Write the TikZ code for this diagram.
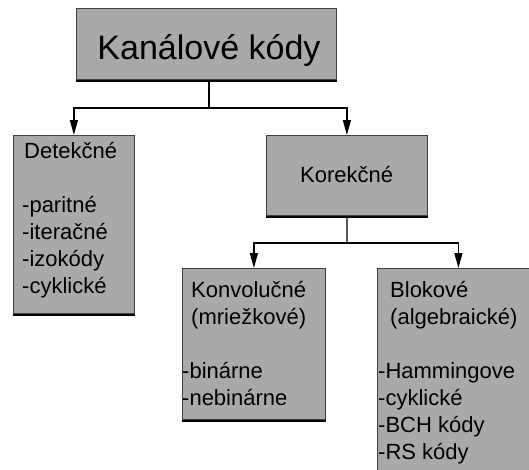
\documentclass[tikz,border=0pt]{standalone}
\usepackage{fontspec}
\setmainfont{Liberation Sans}
\usetikzlibrary{arrows.meta}
\definecolor{boxgray}{HTML}{A9A9A9}
\begin{document}
\begin{tikzpicture}[x=1pt,y=-1pt,
  box/.style={draw=black!75, line width=0.8pt, fill=boxgray, rectangle, inner sep=0pt, anchor=north west},
  shadowline/.style={line width=2.6pt, line cap=butt},
  conn/.style={line width=1.3pt},
  arr/.style={line width=1.3pt, -{Triangle[length=15pt,width=8pt]}},
  txt/.style={inner sep=0pt, anchor=base west, align=left, font=\fontsize{22}{27}\selectfont},
]
\clip (0,0) rectangle (529,469);
\fill[white] (0,0) rectangle (529,469);

% boxes
\node[box, minimum width=260pt, minimum height=71pt] (top) at (76,8) {};
\node[box, minimum width=121pt, minimum height=178pt] (det) at (13,135) {};
\node[box, minimum width=161pt, minimum height=80pt] (kor) at (266,135) {};
\node[box, minimum width=143pt, minimum height=151pt] (konv) at (182,268) {};
\node[box, minimum width=162pt, minimum height=220pt] (blok) at (377,268) {};

\foreach \n in {top,det,kor,konv,blok}
  \draw[shadowline] ([yshift=-1.3pt]\n.south west) -- ([yshift=-1.3pt]\n.south east);

% texts (base anchor of a multi-line node = baseline of its last line)
\node[inner sep=0pt, anchor=base, font=\fontsize{34}{40}\selectfont] (ttop) at (209,59) {Kanálové kódy};
\node[txt] (tdet) at (24,158) {Detekčné};
\node[txt] (ldet) at (22,293) {-paritné\\-iteračné\\-izokódy\\-cyklické};
\node[txt] (tkor) at (300,182) {Korekčné};
\node[txt] (tkonv) at (191,324) {Konvolučné\\(mriežkové)};
\node[txt] (lkonv) at (182,405) {-binárne\\-nebinárne};
\node[txt] (tblok) at (390,324) {Blokové\\(algebraické)};
\node[txt] (lblok) at (378,459) {-Hammingove\\-cyklické\\-BCH kódy\\-RS kódy};

% connectors
\coordinate (j1) at (209,108);
\coordinate (j2) at (347,243);
\draw[conn] (j1 |- top.south) -- (j1);
\draw[arr] (j1) -| (det.north);
\draw[arr] (j1) -| (kor.north);
\draw[conn] (kor.south) -- (j2);
\draw[arr] (j2) -| (konv.north);
\draw[arr] (j2) -| (blok.north);
\end{tikzpicture}
\end{document}
